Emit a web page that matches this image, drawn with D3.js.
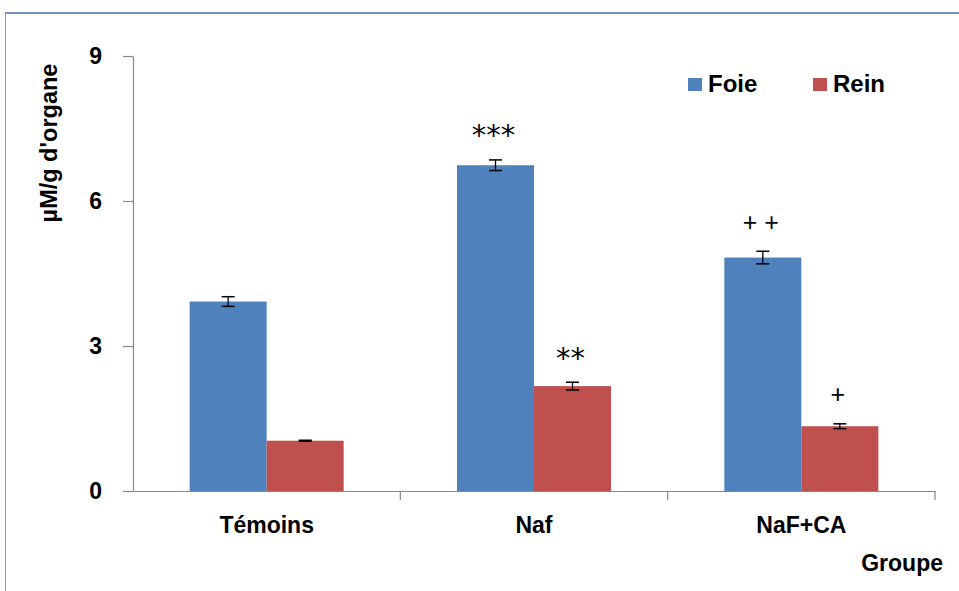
<!DOCTYPE html>
<html>
<head>
<meta charset="utf-8">
<script src="https://cdn.jsdelivr.net/npm/d3@7"></script>
<style>
  html, body { margin: 0; padding: 0; background: #ffffff; }
  svg { display: block; }
</style>
</head>
<body>
<svg id="chart" width="959" height="591"></svg>
<script>
// Groups and series
const groups = ["Témoins", "Naf", "NaF+CA"];
const seriesNames = ["Foie", "Rein"];
const foieValues = [3.92, 6.74, 4.83];
const reinValues = [1.04, 2.17, 1.34];
const foieErrors = [0.10, 0.11, 0.13];
const reinErrors = [0.01, 0.08, 0.05];
// Significance marks shown above each bar
const foieMarks = ["", "***", "+ +"];
const reinMarks = ["", "**", "+"];
const yTicks = [0, 3, 6, 9];

const colors = { Foie: "#4f81bd", Rein: "#c0504d" };
const axisColor = "#888888";
const labelFont = "'Liberation Sans', Arial, sans-serif";

const svg = d3.select("#chart");

// Outer frame
svg.append("line").attr("x1", 5).attr("x2", 959).attr("y1", 13).attr("y2", 13)
  .attr("stroke", "#7393c0").attr("stroke-width", 2);
svg.append("line").attr("x1", 5.5).attr("x2", 5.5).attr("y1", 13).attr("y2", 591)
  .attr("stroke", "#a0a0a0").attr("stroke-width", 1);

const plot = { left: 133, right: 935, top: 56, bottom: 491 };

const x = d3.scaleBand().domain(groups).range([plot.left, plot.right]).paddingInner(0).paddingOuter(0);
const inner = d3.scaleBand().domain(seriesNames).range([0, 154]).padding(0);
const y = d3.scaleLinear().domain([0, 9]).range([plot.bottom, plot.top]);

const rows = groups.map((g, i) => ({
  group: g,
  items: [
    { series: "Foie", value: foieValues[i], err: foieErrors[i], mark: foieMarks[i] },
    { series: "Rein", value: reinValues[i], err: reinErrors[i], mark: reinMarks[i] }
  ]
}));

// Y axis
const yAxis = d3.axisLeft(y).tickValues(yTicks).tickSize(10).tickSizeOuter(0).tickFormat(d3.format("d"));
const gy = svg.append("g").attr("transform", `translate(${plot.left},0)`).call(yAxis);
gy.select(".domain").attr("stroke", axisColor).attr("stroke-width", 1.2);
gy.selectAll(".tick line").attr("stroke", axisColor).attr("stroke-width", 1.2);
gy.selectAll(".tick text").attr("x", -31).attr("fill", "#000")
  .style("font-family", labelFont).style("font-weight", "bold").style("font-size", "23px");

// X axis
const xAxis = d3.axisBottom(x).tickSize(0).tickSizeOuter(0);
const gx = svg.append("g").attr("transform", `translate(0,${plot.bottom})`).call(xAxis);
gx.select(".domain").attr("stroke", axisColor).attr("stroke-width", 1.2);
gx.selectAll(".tick text").attr("y", 42).attr("dy", 0).attr("fill", "#000")
  .style("font-family", labelFont).style("font-weight", "bold").style("font-size", "23px");
// Category separators on the x axis
gx.selectAll(".sep").data(groups).enter().append("line")
  .attr("x1", d => x(d) + x.bandwidth()).attr("x2", d => x(d) + x.bandwidth())
  .attr("y1", 0).attr("y2", 9).attr("stroke", axisColor).attr("stroke-width", 1.2);

// Bars
const barOffset = (x.bandwidth() - 154) / 2;
const gGroups = svg.append("g").selectAll("g").data(rows).enter().append("g")
  .attr("transform", d => `translate(${x(d.group) + barOffset},0)`);

gGroups.selectAll("rect").data(d => d.items).enter().append("rect")
  .attr("x", d => inner(d.series))
  .attr("width", inner.bandwidth())
  .attr("y", d => y(d.value))
  .attr("height", d => y(0) - y(d.value))
  .attr("fill", d => colors[d.series]);

// Error bars
const eb = gGroups.selectAll("g.err").data(d => d.items).enter().append("g").attr("class", "err")
  .attr("transform", d => `translate(${inner(d.series) + inner.bandwidth() / 2},0)`);
eb.append("line").attr("x1", 0).attr("x2", 0)
  .attr("y1", d => y(d.value + d.err)).attr("y2", d => y(d.value - d.err))
  .attr("stroke", "#000").attr("stroke-width", 1.3);
eb.append("line").attr("x1", -6.5).attr("x2", 6.5)
  .attr("y1", d => y(d.value + d.err)).attr("y2", d => y(d.value + d.err))
  .attr("stroke", "#000").attr("stroke-width", 1.5);
eb.append("line").attr("x1", -6.5).attr("x2", 6.5)
  .attr("y1", d => y(d.value - d.err)).attr("y2", d => y(d.value - d.err))
  .attr("stroke", "#000").attr("stroke-width", 1.5);

// Significance marks: asterisks in DejaVu Sans, plus signs in Liberation Sans
gGroups.selectAll("text.mark").data(d => d.items.filter(it => it.mark)).enter().append("text").attr("class", "mark")
  .attr("x", d => inner(d.series) + inner.bandwidth() / 2 - 2)
  .attr("y", d => y(d.value + d.err) - 29)
  .attr("dy", d => d.mark.includes("*") ? "0.5em" : "0.33em")
  .attr("text-anchor", "middle")
  .style("font-family", d => d.mark.includes("*") ? "'DejaVu Sans', sans-serif" : "'Liberation Sans', Arial, sans-serif")
  .style("font-size", d => d.mark.includes("*") ? "29px" : "25px")
  .attr("fill", "#000")
  .text(d => d.mark);

// Y axis title
svg.append("text")
  .attr("transform", "translate(57,143) rotate(-90)")
  .attr("text-anchor", "middle")
  .style("font-family", labelFont).style("font-weight", "bold").style("font-size", "23.5px")
  .attr("fill", "#000")
  .text("µM/g d'organe");

// X axis title
svg.append("text")
  .attr("x", 943).attr("y", 571)
  .attr("text-anchor", "end")
  .style("font-family", labelFont).style("font-weight", "bold").style("font-size", "23px")
  .attr("fill", "#000")
  .text("Groupe");

// Legend
const legendX = [688, 813];
const legend = svg.append("g").selectAll("g").data(seriesNames).enter().append("g")
  .attr("transform", (d, i) => `translate(${legendX[i]},78)`);
legend.append("rect").attr("width", 14).attr("height", 13).attr("fill", d => colors[d]);
legend.append("text").attr("x", 20).attr("y", 14)
  .style("font-family", "'Liberation Sans', Arial, sans-serif").style("font-weight", "bold").style("font-size", "24px")
  .attr("fill", "#000")
  .text(d => d);
</script>
</body>
</html>
